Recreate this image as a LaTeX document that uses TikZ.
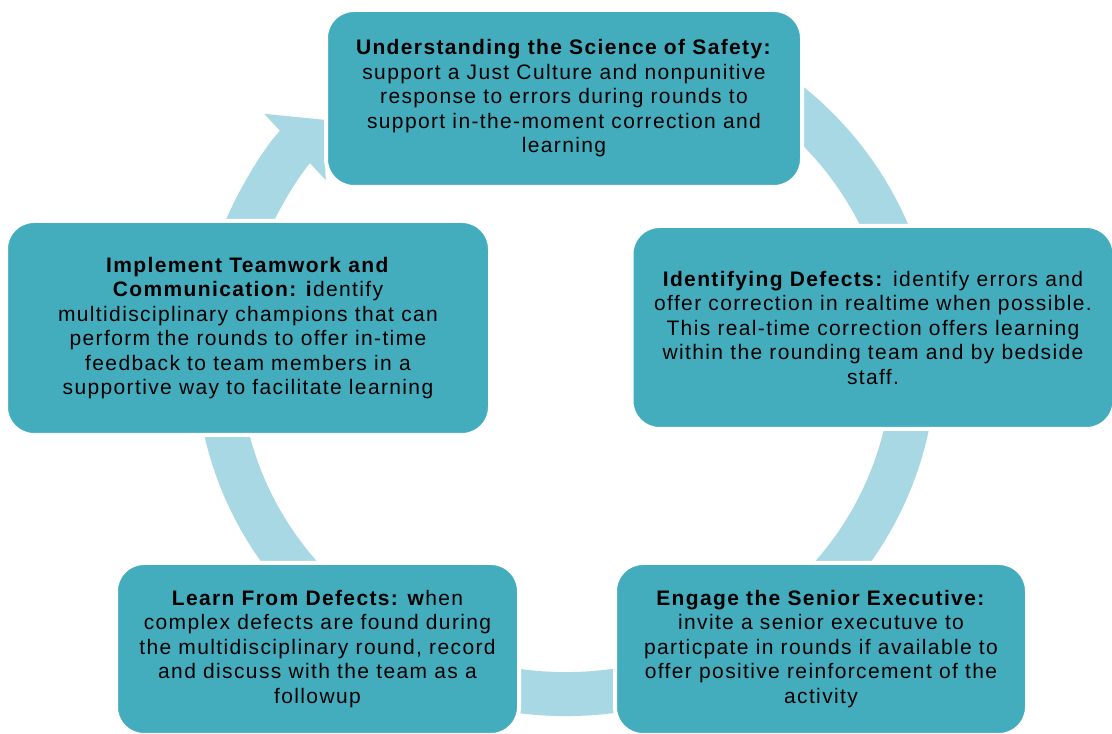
\documentclass[tikz,border=0pt]{standalone}
\usepackage{fontspec}
\setmainfont{Liberation Sans}[LetterSpace=6.5]
\usetikzlibrary{arrows.meta}

\definecolor{boxteal}{RGB}{67,173,190}
\definecolor{ringblue}{RGB}{167,216,228}

\tikzset{
  phase/.style={draw=white, line width=4pt, fill=boxteal, rounded corners=28pt,
    align=center, inner sep=0pt, text=black,
    font=\fontsize{21}{24.5}\selectfont},
  cycle ring/.style={draw=ringblue, line width=44pt,
    -{Triangle[length=40pt,width=88pt]}}
}

\begin{document}
\begin{tikzpicture}[x=1pt,y=1pt]
  \useasboundingbox (0,0) rectangle (1112,734);
  \coordinate (hub) at (566,374);
  \path (hub) ++(70:348 and 334) coordinate (ringstart);
  \draw[cycle ring] (ringstart) arc[start angle=70, end angle=-226, x radius=348, y radius=334];

  \node[phase, minimum width=476pt, minimum height=177pt] (safety) at (564,635.5)
    {\textbf{Understanding the Science of Safety:}\\ support a Just Culture and nonpunitive\\ response to errors during rounds to\\ support in-the-moment correction and\\ learning};
  \node[phase, minimum width=483pt, minimum height=203pt] (defects) at (873,406.5)
    {\textbf{Identifying Defects:} identify errors and\\ offer correction in realtime when possible.\\ This real-time correction offers learning\\ within the rounding team and by bedside\\ staff.};
  \node[phase, minimum width=412pt, minimum height=172pt] (executive) at (821,85)
    {\textbf{Engage the Senior Executive:}\\ invite a senior executuve to\\ particpate in rounds if available to\\ offer positive reinforcement of the\\ activity};
  \node[phase, minimum width=403pt, minimum height=172pt] (learn) at (317.5,85)
    {\textbf{Learn From Defects: w}hen\\ complex defects are found during\\ the multidisciplinary round, record\\ and discuss with the team as a\\ followup};
  \node[phase, minimum width=484pt, minimum height=214pt] (teamwork) at (248,406)
    {\textbf{Implement Teamwork and}\\ \textbf{Communication: i}dentify\\ multidisciplinary champions that can\\ perform the rounds to offer in-time\\ feedback to team members in a\\ supportive way to facilitate learning};
\end{tikzpicture}
\end{document}
